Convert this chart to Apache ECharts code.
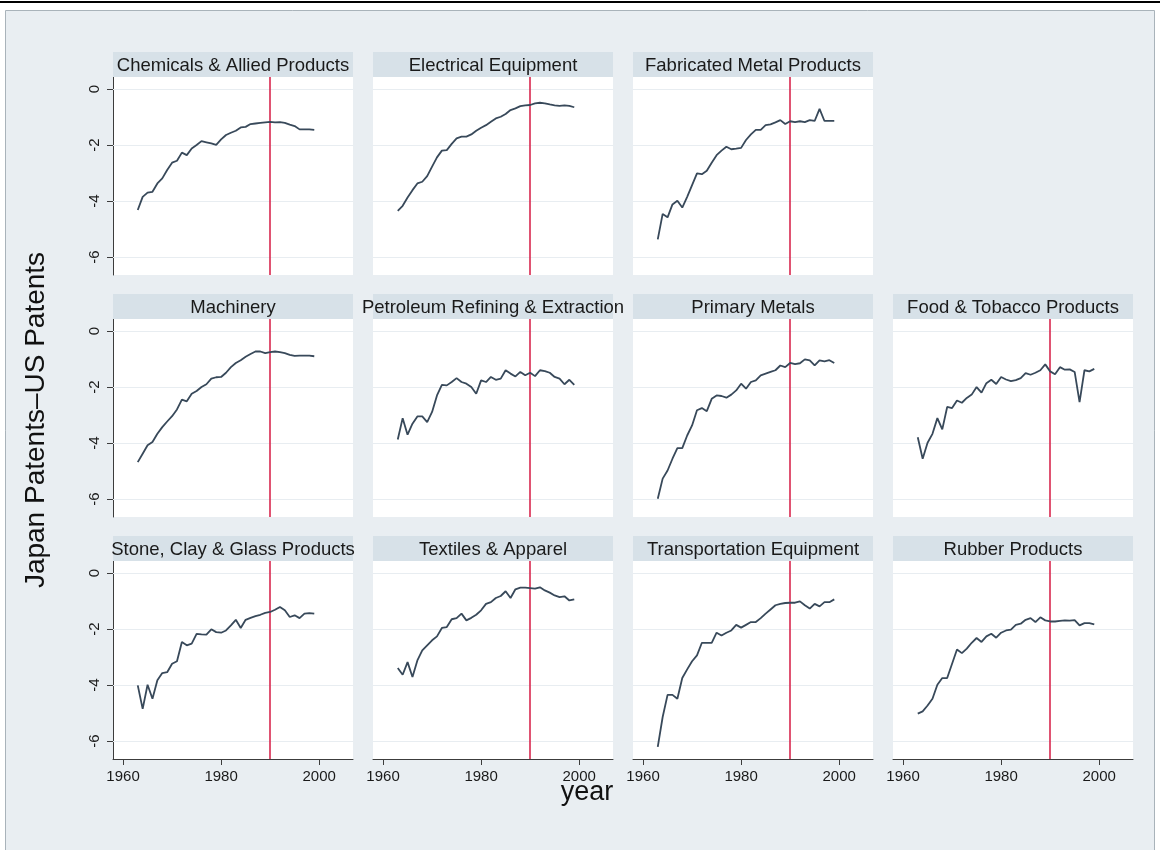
<!DOCTYPE html>
<html><head><meta charset="utf-8">
<script src="https://cdn.jsdelivr.net/npm/echarts@6/dist/echarts.min.js"></script>
<style>html,body{margin:0;padding:0;background:#fff}#c{width:1160px;height:850px}</style>
</head><body><div id="c"></div>
<script>
const years = [1963,1964,1965,1966,1967,1968,1969,1970,1971,1972,
  1973,1974,1975,1976,1977,1978,1979,1980,1981,1982,
  1983,1984,1985,1986,1987,1988,1989,1990,1991,1992,
  1993,1994,1995,1996,1997,1998,1999];

const chemicals = [-4.32,-3.85,-3.70,-3.67,-3.37,-3.19,-2.89,-2.63,-2.56,-2.27,
  -2.36,-2.12,-2.00,-1.86,-1.90,-1.94,-1.99,-1.80,-1.64,-1.56,
  -1.49,-1.37,-1.35,-1.25,-1.23,-1.21,-1.19,-1.17,-1.19,-1.18,
  -1.21,-1.27,-1.32,-1.44,-1.44,-1.44,-1.46];
const electrical = [-4.35,-4.17,-3.87,-3.61,-3.37,-3.31,-3.11,-2.77,-2.44,-2.20,
  -2.18,-1.96,-1.76,-1.70,-1.70,-1.62,-1.49,-1.38,-1.29,-1.17,
  -1.05,-0.99,-0.89,-0.75,-0.69,-0.61,-0.58,-0.57,-0.51,-0.49,
  -0.51,-0.55,-0.58,-0.60,-0.58,-0.60,-0.65];
const fabricated = [-5.37,-4.46,-4.58,-4.12,-3.99,-4.23,-3.85,-3.43,-3.01,-3.04,
  -2.92,-2.63,-2.36,-2.20,-2.06,-2.15,-2.13,-2.10,-1.82,-1.62,
  -1.46,-1.46,-1.29,-1.26,-1.19,-1.11,-1.25,-1.15,-1.18,-1.15,
  -1.18,-1.11,-1.14,-0.71,-1.14,-1.14,-1.14];
const machinery = [-4.68,-4.38,-4.08,-3.96,-3.67,-3.43,-3.23,-3.04,-2.80,-2.45,
  -2.51,-2.24,-2.14,-2.00,-1.90,-1.70,-1.65,-1.64,-1.49,-1.29,
  -1.14,-1.04,-0.92,-0.82,-0.73,-0.73,-0.79,-0.75,-0.73,-0.75,
  -0.79,-0.85,-0.89,-0.88,-0.88,-0.88,-0.90];
const petroleum = [-3.87,-3.11,-3.70,-3.31,-3.05,-3.05,-3.25,-2.89,-2.30,-1.92,
  -1.94,-1.82,-1.68,-1.82,-1.88,-2.00,-2.24,-1.76,-1.82,-1.64,
  -1.74,-1.70,-1.40,-1.52,-1.62,-1.46,-1.58,-1.49,-1.61,-1.40,
  -1.43,-1.49,-1.64,-1.70,-1.90,-1.74,-1.92];
const primaryMetals = [-5.99,-5.27,-4.98,-4.56,-4.18,-4.18,-3.73,-3.37,-2.83,-2.75,
  -2.86,-2.42,-2.30,-2.32,-2.38,-2.27,-2.12,-1.88,-2.06,-1.82,
  -1.76,-1.58,-1.52,-1.46,-1.40,-1.23,-1.29,-1.14,-1.18,-1.15,
  -1.01,-1.05,-1.23,-1.05,-1.08,-1.04,-1.14];
const foodTobacco = [-3.79,-4.56,-3.99,-3.67,-3.11,-3.51,-2.71,-2.75,-2.48,-2.56,
  -2.39,-2.27,-2.00,-2.20,-1.86,-1.74,-1.89,-1.64,-1.73,-1.79,
  -1.75,-1.68,-1.50,-1.56,-1.49,-1.40,-1.19,-1.44,-1.54,-1.29,
  -1.38,-1.37,-1.46,-2.54,-1.40,-1.44,-1.35];
const stoneClayGlass = [-4.01,-4.85,-3.99,-4.49,-3.83,-3.57,-3.54,-3.24,-3.15,-2.46,
  -2.58,-2.52,-2.17,-2.19,-2.20,-2.01,-2.11,-2.13,-2.05,-1.87,
  -1.67,-1.96,-1.67,-1.60,-1.54,-1.49,-1.42,-1.39,-1.31,-1.21,
  -1.33,-1.57,-1.51,-1.61,-1.45,-1.43,-1.45];
const textiles = [-3.39,-3.63,-3.18,-3.71,-3.12,-2.76,-2.58,-2.40,-2.26,-1.96,
  -1.93,-1.65,-1.61,-1.45,-1.69,-1.60,-1.49,-1.33,-1.10,-1.04,
  -0.89,-0.82,-0.65,-0.89,-0.58,-0.52,-0.52,-0.54,-0.56,-0.51,
  -0.62,-0.70,-0.80,-0.86,-0.83,-0.98,-0.94];
const transportation = [-6.21,-5.14,-4.35,-4.35,-4.49,-3.75,-3.44,-3.15,-2.94,-2.49,
  -2.49,-2.49,-2.13,-2.23,-2.13,-2.05,-1.85,-1.95,-1.85,-1.75,
  -1.75,-1.61,-1.45,-1.30,-1.15,-1.10,-1.07,-1.06,-1.06,-1.01,
  -1.15,-1.27,-1.10,-1.19,-1.04,-1.04,-0.94];
const rubber = [-5.02,-4.94,-4.73,-4.49,-3.99,-3.75,-3.75,-3.24,-2.73,-2.86,
  -2.70,-2.49,-2.32,-2.46,-2.26,-2.17,-2.31,-2.13,-2.05,-2.02,
  -1.85,-1.81,-1.67,-1.61,-1.75,-1.58,-1.69,-1.73,-1.73,-1.71,
  -1.69,-1.70,-1.68,-1.87,-1.79,-1.79,-1.83];

const panelTitles = ['Chemicals & Allied Products','Electrical Equipment','Fabricated Metal Products',
  'Machinery','Petroleum Refining & Extraction','Primary Metals','Food & Tobacco Products',
  'Stone, Clay & Glass Products','Textiles & Apparel','Transportation Equipment','Rubber Products'];
const panelSeries = [chemicals, electrical, fabricated, machinery, petroleum, primaryMetals, foodTobacco,
  stoneClayGlass, textiles, transportation, rubber];
const panelRows = [0,0,0,1,1,1,1,2,2,2,2];
const panelCols = [0,1,2,0,1,2,3,0,1,2,3];
const yTicks = [0,-2,-4,-6];
const xTicks = [1960,1980,2000];
const breakYear = 1990;
const yTitle = 'Japan Patents\u2013US Patents';
const xTitle = 'year';

const FONT = "'Liberation Sans', Arial, Helvetica, sans-serif";
const L0 = 113, T0 = 77, W = 240, H = 198, DX = 260, DY = 242, STRIP = 25;
const grids = [], xAxes = [], yAxes = [], series = [];
const graphics = [
  {type:'rect', z:-10, shape:{x:5.5, y:10.5, width:1149, height:850}, style:{fill:'#e9eef2', stroke:'#a9b3ba', lineWidth:1}},
  {type:'line', z:-9, shape:{x1:0, y1:2, x2:1160, y2:2}, style:{stroke:'#000', lineWidth:2}},
  {type:'text', z:20, x:36, y:420, rotation:Math.PI/2, style:{text:yTitle, font:'28px ' + FONT, fill:'#111', textAlign:'center', textVerticalAlign:'middle'}},
  {type:'text', z:20, x:587, y:793, style:{text:xTitle, font:'27px ' + FONT, fill:'#111', textAlign:'center', textVerticalAlign:'middle'}}
];

panelTitles.forEach((name, i) => {
  const left = L0 + panelCols[i] * DX, top = T0 + panelRows[i] * DY;
  const showX = panelRows[i] === 2, showY = panelCols[i] === 0;
  grids.push({left, top, width: W, height: H, show: true, backgroundColor: '#fff', borderWidth: 0});
  xAxes.push({type:'value', gridIndex:i, min:1957.95, max:2006.9,
    splitLine:{show:false},
    axisLine:{show:showX, onZero:false, lineStyle:{color:'#3c3c3c', width:1}},
    axisTick:{show:showX, length:6, customValues:xTicks, lineStyle:{color:'#3c3c3c'}},
    axisLabel:{show:showX, customValues:xTicks, formatter: v => String(v), fontSize:15, color:'#1a1a1a', margin:10, fontFamily:FONT}});
  yAxes.push({type:'value', gridIndex:i, min:-6.64, max:0.43,
    splitLine:{show:false},
    axisLine:{show:showY, onZero:false, lineStyle:{color:'#3c3c3c', width:1}},
    axisTick:{show:showY, length:6, customValues:yTicks, lineStyle:{color:'#3c3c3c'}},
    axisLabel:{show:showY, rotate:90, customValues:yTicks, formatter: v => String(v), fontSize:15, color:'#1a1a1a', margin:11, fontFamily:FONT}});
  series.push({type:'line', xAxisIndex:i, yAxisIndex:i, data:[], z:1, silent:true, animation:false,
    markLine:{z:1, symbol:'none', silent:true, animation:false, label:{show:false},
      lineStyle:{color:'#e8edf1', width:1, type:'solid'}, emphasis:{disabled:true},
      data: yTicks.map(v => ({yAxis: v}))}});
  series.push({type:'line', xAxisIndex:i, yAxisIndex:i, z:3, silent:true, animation:false,
    data: years.map((y, k) => [y, panelSeries[i][k]]),
    symbol:'none', showSymbol:false,
    lineStyle:{color:'#38495a', width:1.8},
    markLine:{z:2, symbol:'none', silent:true, animation:false, label:{show:false},
      lineStyle:{color:'#d8274f', width:1.6, type:'solid'}, emphasis:{disabled:true},
      data:[{xAxis: breakYear}]}});
  graphics.push({type:'rect', z:5, shape:{x:left, y:top - STRIP, width:W, height:STRIP}, style:{fill:'#d7e1e8'}});
  graphics.push({type:'text', z:6, x:left + W/2, y:top - STRIP/2 + 1,
    style:{text:name, font:'18.5px ' + FONT, fill:'#1a1a1a', textAlign:'center', textVerticalAlign:'middle'}});
});

const chart = echarts.init(document.getElementById('c'), null, {renderer:'canvas'});
chart.setOption({
  backgroundColor:'#ffffff',
  animation:false,
  grid: grids, xAxis: xAxes, yAxis: yAxes, series: series,
  graphic: graphics
});
</script>
</body></html>
